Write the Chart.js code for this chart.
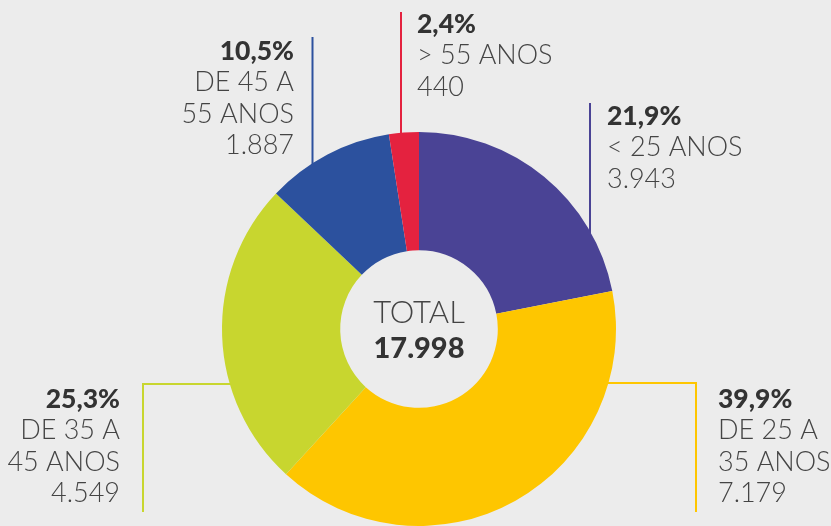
<!DOCTYPE html>
<html lang="pt-BR">
<head>
<meta charset="utf-8">
<title>Faixa etária</title>
<script src="https://cdn.jsdelivr.net/npm/chart.js@4.4.1/dist/chart.umd.min.js"></script>
<style>
  html, body { margin: 0; padding: 0; background: #ececec; }
  #grafico { display: block; }
</style>
</head>
<body>
<canvas id="grafico" width="831" height="526"></canvas>
<script>
// Dados
const categorias = ['< 25 ANOS', 'DE 25 A 35 ANOS', 'DE 35 A 45 ANOS', 'DE 45 A 55 ANOS', '> 55 ANOS'];
const valores = [3943, 7179, 4549, 1887, 440];
const percentuais = ['21,9%', '39,9%', '25,3%', '10,5%', '2,4%'];
const linhasRotulo = [['< 25 ANOS'], ['DE 25 A', '35 ANOS'], ['DE 35 A', '45 ANOS'], ['DE 45 A', '55 ANOS'], ['> 55 ANOS']];
const cores = ['#4a4395', '#fec600', '#c8d62f', '#2c519e', '#e4223f'];

// Posição dos rótulos e linhas guia (mesma ordem das categorias)
const layoutRotulos = [
  { x: 607, y: 116, align: 'left', linha: [[590, 103]], dir: 'v' },
  { x: 718, y: 399, align: 'left', linha: [[696, 512], [696, 383]], dir: 'h' },
  { x: 120, y: 399, align: 'right', linha: [[143, 512], [143, 384]], dir: 'h' },
  { x: 294, y: 51, align: 'right', linha: [[312.5, 37]], dir: 'v' },
  { x: 417, y: 24, align: 'left', linha: [[401, 12]], dir: 'v' }
];
const entreLinhas = 31.5;
const fonteLeve = '300 27px Lato, "Open Sans", sans-serif';
const fonteForte = '900 26.5px Lato, "Open Sans", sans-serif';

function formatar(n) {
  return String(n).replace(/\B(?=(\d{3})+(?!\d))/g, '.');
}

const total = valores.reduce((a, b) => a + b, 0);

function pontoNoAnel(p, dir, cx, cy, r) {
  if (dir === 'v') {
    const dy = Math.sqrt(r * r - (p[0] - cx) ** 2) - 4;
    return [p[0], p[1] < cy ? cy - dy : cy + dy];
  }
  const dx = Math.sqrt(r * r - (p[1] - cy) ** 2) - 4;
  return [p[0] < cx ? cx - dx : cx + dx, p[1]];
}

const rotulosPlugin = {
  id: 'rotulos',
  beforeDatasetsDraw(chart) {
    const ctx = chart.ctx;
    const arco = chart.getDatasetMeta(0).data[0];
    const cx = arco.x, cy = arco.y, r = arco.outerRadius;
    ctx.save();
    ctx.lineWidth = 2;
    layoutRotulos.forEach((l, i) => {
      const pts = l.linha.slice();
      pts.push(pontoNoAnel(pts[pts.length - 1], l.dir, cx, cy, r));
      ctx.strokeStyle = cores[i];
      ctx.beginPath();
      ctx.moveTo(pts[0][0], pts[0][1]);
      for (let k = 1; k < pts.length; k++) ctx.lineTo(pts[k][0], pts[k][1]);
      ctx.stroke();
    });
    ctx.restore();
  },
  afterDatasetsDraw(chart) {
    const ctx = chart.ctx;
    const arco = chart.getDatasetMeta(0).data[0];
    ctx.save();
    ctx.textBaseline = 'middle';
    layoutRotulos.forEach((l, i) => {
      ctx.textAlign = l.align;
      ctx.fillStyle = '#333';
      ctx.font = fonteForte;
      ctx.fillText(percentuais[i], l.x, l.y);
      ctx.font = fonteLeve;
      ctx.fillStyle = '#444';
      const linhas = linhasRotulo[i].concat([formatar(valores[i])]);
      linhas.forEach((t, k) => ctx.fillText(t, l.x, l.y + entreLinhas * (k + 1)));
    });
    // Centro
    ctx.textAlign = 'center';
    ctx.fillStyle = '#444';
    ctx.font = '300 31px Lato, "Open Sans", sans-serif';
    ctx.fillText('TOTAL', arco.x, arco.y - 16);
    ctx.fillStyle = '#333';
    ctx.font = '900 29px Lato, "Open Sans", sans-serif';
    ctx.fillText(formatar(total), arco.x, arco.y + 20);
    ctx.restore();
  }
};

new Chart(document.getElementById('grafico'), {
  type: 'doughnut',
  data: {
    labels: categorias,
    datasets: [{
      data: valores,
      backgroundColor: cores,
      borderWidth: 0
    }]
  },
  options: {
    responsive: false,
    animation: false,
    cutout: '40%',
    layout: { padding: { top: 132, bottom: 0, left: 222, right: 215 } },
    plugins: {
      legend: { display: false },
      tooltip: { enabled: false }
    },
    events: []
  },
  plugins: [rotulosPlugin]
});
</script>
</body>
</html>
